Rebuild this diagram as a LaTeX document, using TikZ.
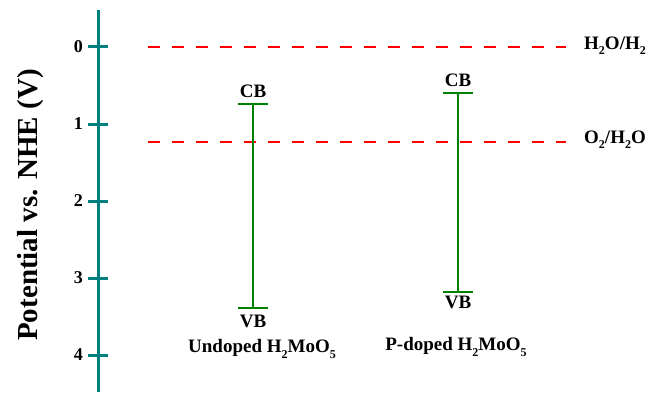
\documentclass[tikz,border=0pt]{standalone}
\usepackage{fontspec}
\setmainfont{Liberation Serif}
\newcommand{\mysub}[1]{\raisebox{-0.6ex}{\fontsize{12}{12}\selectfont #1}}
\begin{document}
\begin{tikzpicture}[x=1pt,y=-1pt,
  axisline/.style={draw={rgb,255:red,0;green,128;blue,128},line width=3pt},
  refline/.style={draw=red,line width=2.2pt,dash pattern=on 12pt off 12pt},
  bandline/.style={draw={rgb,255:red,0;green,128;blue,0},line width=2.3pt},
  lbl/.style={font=\bfseries\fontsize{19}{19}\selectfont,inner sep=0pt},
  ticklbl/.style={font=\bfseries\fontsize{18}{18}\selectfont,inner sep=0pt,anchor=east}]
\useasboundingbox (0,0) rectangle (652,396);
% axis
\coordinate (atop) at (98,10);
\coordinate (abot) at (98,392);
\draw[axisline] (atop) -- (abot);
\foreach \v in {0,1,2,3,4}{
  \coordinate (tl\v) at (88,{47+77*\v});
  \coordinate (tr\v) at (108,{47+77*\v});
  \draw[axisline] (tl\v) -- (tr\v);
  \node[ticklbl] (tn\v) at (83,{47+77*\v}) {\v};
}
\node[font=\bfseries\fontsize{29}{29}\selectfont,rotate=90,inner sep=0pt] (ylab) at (31,205) {Potential vs. NHE (V)};
% reference lines
\coordinate (r1a) at (148,47);
\coordinate (r1b) at (566,47);
\coordinate (r2a) at (148,142);
\coordinate (r2b) at (566,142);
\draw[refline] (r1a) -- (r1b);
\draw[refline] (r2a) -- (r2b);
\node[lbl,anchor=west] (h2o) at (584,46) {H\mysub{2}O/H\mysub{2}};
\node[lbl,anchor=west] (o2) at (584,140) {O\mysub{2}/H\mysub{2}O};
% undoped
\coordinate (ucb) at (253,104);
\coordinate (uvb) at (253,308);
\coordinate (ucbl) at (238,104);
\coordinate (ucbr) at (268,104);
\coordinate (uvbl) at (238,308);
\coordinate (uvbr) at (268,308);
\draw[bandline] (ucb) -- (uvb);
\draw[bandline] (ucbl) -- (ucbr);
\draw[bandline] (uvbl) -- (uvbr);
\node[lbl] (ucbt) at (253,91) {CB};
\node[lbl] (uvbt) at (253,321) {VB};
\node[lbl] (uname) at (262,349) {Undoped H\mysub{2}MoO\mysub{5}};
% P-doped
\coordinate (pcb) at (458,93);
\coordinate (pvb) at (458,292);
\coordinate (pcbl) at (443,93);
\coordinate (pcbr) at (473,93);
\coordinate (pvbl) at (443,292);
\coordinate (pvbr) at (473,292);
\draw[bandline] (pcb) -- (pvb);
\draw[bandline] (pcbl) -- (pcbr);
\draw[bandline] (pvbl) -- (pvbr);
\node[lbl] (pcbt) at (458,80) {CB};
\node[lbl] (pvbt) at (458,302) {VB};
\node[lbl] (pname) at (456,347) {P-doped H\mysub{2}MoO\mysub{5}};
\end{tikzpicture}
\end{document}
